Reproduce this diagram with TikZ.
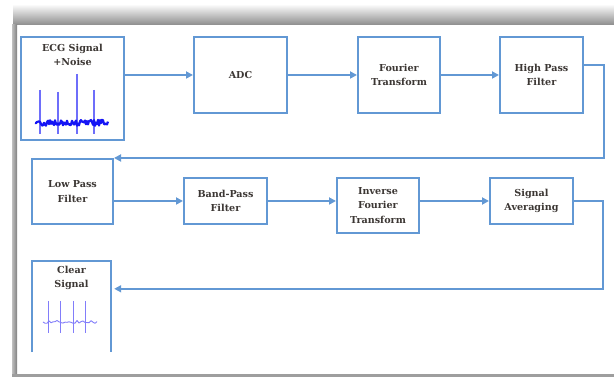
\documentclass[tikz,border=0pt]{standalone}
\usepackage{fontspec}
\setmainfont{DejaVu Serif}
\usetikzlibrary{arrows.meta,positioning}

\definecolor{lineblue}{RGB}{98,152,212}
\definecolor{textgray}{RGB}{60,55,52}
\definecolor{ecgblue}{RGB}{20,20,245}
\definecolor{spikeblue}{RGB}{110,110,250}
\definecolor{clearblue}{RGB}{130,125,250}

\begin{document}
\begin{tikzpicture}
[
  x=1pt, y=-1pt,
  blk/.style={draw=lineblue, line width=2pt, fill=white, align=center,
    text=textgray, font=\fontsize{9.6}{14.5}\selectfont\bfseries,
    inner sep=0pt},
  lbl/.style={text=textgray, font=\fontsize{9.6}{14.5}\selectfont\bfseries,
    align=center, anchor=north, inner sep=0pt},
  arr/.style={draw=lineblue, line width=2pt,
    -{Triangle[length=7pt,width=7pt]}},
  frame/.style={fill=black!38}
]
  \useasboundingbox (0,0) rectangle (614,379);
  \fill[white] (0,0) rectangle (614,379);
  \shade[top color=white, bottom color=black!45] (13,4) rectangle (614,25);
  \shade[left color=black!25, right color=black!50] (12,25) rectangle (17,377);
  \fill[frame] (12,374) rectangle (614,377);

  \node[blk, minimum width=103, minimum height=103] (ecg) at (72.5,88.5) {};
  \node[lbl] (ecgtxt) at (72.5,44) {ECG Signal\\+Noise};
  \node[blk, minimum width=93, minimum height=76] (adc) at (240.5,75) {ADC};
  \node[blk, minimum width=82, minimum height=76] (ft) at (399,75) {Fourier\\Transform};
  \node[blk, minimum width=83, minimum height=76] (hpf) at (541.5,75) {High Pass\\Filter};

  \node[blk, minimum width=81, minimum height=65] (lp) at (72.5,191.5) {Low Pass\\Filter};
  \node[blk, minimum width=83, minimum height=46] (bp) at (225.5,201) {Band-Pass\\Filter};
  \node[blk, minimum width=82, minimum height=55] (ift) at (378,205.5) {Inverse\\Fourier\\Transform};
  \node[blk, minimum width=83, minimum height=46] (sa) at (531.5,201) {Signal\\Averaging};

  \node[minimum width=79, minimum height=91, inner sep=0pt] (clear) at (71.5,306.5) {};
  \draw[lineblue, line width=2pt] (clear.south west) -- (clear.north west)
    -- (clear.north east) -- (clear.south east);
  \node[lbl] (cleartxt) at (71.5,266) {Clear\\Signal};

  \draw[arr] (ecg.east |- adc.west) -- (adc.west);
  \draw[arr] (adc) -- (ft);
  \draw[arr] (ft) -- (hpf);
  \draw[arr] ([yshift=10pt]hpf.east) -- ++(20,0) |- (lp.north east);
  \draw[arr] (lp.east |- bp.west) -- (bp.west);
  \draw[arr] (bp.east) -- (bp.east -| ift.west);
  \draw[arr] (ift.east |- sa.west) -- (sa.west);
  \draw[arr, shorten >=3pt] (sa.east) -- ++(29,0) |- ([yshift=-28pt]clear.north east);

  \pgfmathsetseed{11}
  \foreach \sx/\top in {40/90, 58/92, 77/74, 94/90}
    \draw[spikeblue, line width=1.1pt] (\sx,\top) -- (\sx,134);
  \draw[ecgblue, line width=2.2pt, line join=round]
    (35,123) \foreach \x in {36,37,...,108} { -- (\x,{123+3.2*rand}) };

  \foreach \sx in {48,60,73,85}
    \draw[clearblue, line width=1pt] (\sx,301) -- (\sx,333);
  \draw[clearblue, line width=0.9pt, line join=round]
    (43,322) \foreach \x in {45,47,...,97} { -- (\x,{322+1.5*rand}) };
\end{tikzpicture}
\end{document}
